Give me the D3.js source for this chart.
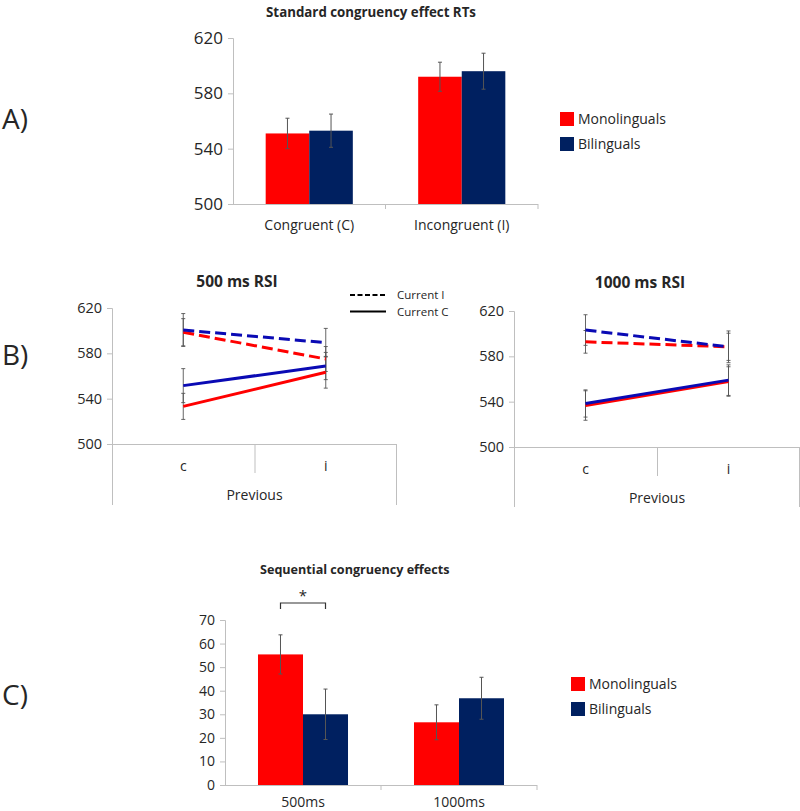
<!DOCTYPE html>
<html><head><meta charset="utf-8">
<script src="https://cdn.jsdelivr.net/npm/d3@7"></script>
<style>
body{margin:0;background:#fff;}
text{font-family:"Open Sans",sans-serif;fill:#262626;}
</style></head><body>
<script>
// ---------- DATA ----------
const groups = ["Monolinguals", "Bilinguals"];
// Panel A
const catsA = ["Congruent (C)", "Incongruent (I)"];
const monoA = [551, 592];
const biA = [553, 596];
const monoAErr = [11, 10.5];
const biAErr = [12, 13];
const ticksA = [500, 540, 580, 620];
// Panel B
const previous = ["c", "i"];
const ticksB = [500, 540, 580, 620];
const r500MonoI = [598.6, 575];
const r500BiI = [600.6, 589.4];
const r500MonoC = [533.2, 563.3];
const r500BiC = [551.5, 568.8];
const r500MonoIErr = [12, 11];
const r500BiIErr = [14.5, 12.6];
const r500MonoCErr = [11.5, 14];
const r500BiCErr = [15, 12];
const r1000MonoI = [592.8, 588.4];
const r1000BiI = [603.2, 588.4];
const r1000MonoC = [536.6, 557.8];
const r1000BiC = [538.4, 559];
const r1000MonoIErr = [10, 12];
const r1000BiIErr = [13.5, 14];
const r1000MonoCErr = [13, 13];
const r1000BiCErr = [12, 13.5];
// Panel C
const catsC = ["500ms", "1000ms"];
const monoSeq = [55.4, 26.6];
const biSeq = [30, 36.8];
const monoSeqErr = [8.3, 7.4];
const biSeqErr = [10.7, 8.9];
const ticksC = [0, 10, 20, 30, 40, 50, 60, 70];

// ---------- STYLE ----------
const RED = "#ff0000", NAVY = "#002060", LBLUE = "#0a0ab4", AX = "#bfbfbf", ERR = "#555";

const svg = d3.select("body").append("svg").attr("width", 800).attr("height", 811);

function styleAxis(g, fs) {
  g.select(".domain").attr("stroke", AX);
  g.selectAll(".tick line").attr("stroke", AX);
  g.selectAll(".tick text").style("font-size", fs + "px").attr("fill", "#262626");
}

function barPanel(opt) {
  const g = svg.append("g");
  const y = d3.scaleLinear().domain(opt.ydom).range(opt.yr);
  const x = d3.scaleBand().domain(opt.cats).range(opt.xr).paddingInner(0).paddingOuter(0);
  const sub = d3.scaleBand().domain(groups).range([0, x.bandwidth()]).paddingInner(0).paddingOuter(opt.pad);
  // y axis
  const ya = g.append("g").attr("transform", `translate(${opt.xr[0]},0)`)
    .call(d3.axisLeft(y).tickValues(opt.ticks).tickSize(5).tickPadding(5).tickFormat(d3.format("d")));
  styleAxis(ya, opt.tfs);
  // bars
  const data = [];
  opt.cats.forEach((c, i) => {
    data.push({c, gname: groups[0], v: opt.mono[i], e: opt.monoErr[i], col: RED});
    data.push({c, gname: groups[1], v: opt.bi[i], e: opt.biErr[i], col: NAVY});
  });
  g.selectAll("rect.bar").data(data).join("rect")
    .attr("x", d => x(d.c) + sub(d.gname)).attr("width", sub.bandwidth())
    .attr("y", d => y(d.v)).attr("height", d => y(opt.ydom[0]) - y(d.v))
    .attr("fill", d => d.col);
  // error bars
  const cx = d => x(d.c) + sub(d.gname) + sub.bandwidth() / 2;
  g.selectAll("line.err").data(data).join("line")
    .attr("x1", cx).attr("x2", cx).attr("y1", d => y(d.v + d.e)).attr("y2", d => y(d.v - d.e))
    .attr("stroke", ERR).attr("stroke-width", 1);
  [1, -1].forEach(s => {
    g.selectAll(null).data(data).join("line")
      .attr("x1", d => cx(d) - 2).attr("x2", d => cx(d) + 2)
      .attr("y1", d => y(d.v + s * d.e)).attr("y2", d => y(d.v + s * d.e))
      .attr("stroke", ERR).attr("stroke-width", 1);
  });
  // x axis
  const xa = g.append("g").attr("transform", `translate(0,${opt.yr[0]})`)
    .call(d3.axisBottom(x).tickSize(0).tickPadding(opt.xpad));
  styleAxis(xa, opt.xfs);
  xa.select(".domain").attr("d", `M${opt.xr[0]},0.5H${opt.xr[1]}`);
  const bounds = opt.cats.map((c) => x(c) + x.step());
  g.selectAll(null).data(bounds).join("line")
    .attr("x1", d => d).attr("x2", d => d).attr("y1", opt.yr[0]).attr("y2", opt.yr[0] + 5)
    .attr("stroke", AX);
  // legend
  const lg = g.append("g");
  groups.forEach((gn, i) => {
    lg.append("rect").attr("x", opt.lx).attr("y", opt.ly + i * 25).attr("width", 14).attr("height", 14)
      .attr("fill", i ? NAVY : RED);
    lg.append("text").attr("x", opt.lx + 18).attr("y", opt.ly + 7 + i * 25).attr("dy", "0.35em")
      .style("font-size", opt.lfs + "px").text(gn);
  });
  // title
  g.append("text").attr("x", opt.tx).attr("y", opt.ty).attr("text-anchor", opt.tanchor || "middle")
    .attr("dy", "0.35em").style("font-size", opt.titfs + "px").style("font-weight", "bold").text(opt.title);
  return {x, y, sub};
}

// Panel A
barPanel({cats: catsA, mono: monoA, bi: biA, monoErr: monoAErr, biErr: biAErr,
  ydom: [500, 620], yr: [204, 38], xr: [233, 538], pad: 0.75, ticks: ticksA,
  tfs: 17, xfs: 14, xpad: 16, lx: 560, ly: 112, lfs: 14,
  tx: 371, ty: 12, titfs: 13.3, title: "Standard congruency effect RTs"});

// Panel C
const pc = barPanel({cats: catsC, mono: monoSeq, bi: biSeq, monoErr: monoSeqErr, biErr: biSeqErr,
  ydom: [0, 70], yr: [785, 620], xr: [225, 537], pad: 0.733, ticks: ticksC,
  tfs: 14, xfs: 14, xpad: 12, lx: 571, ly: 677, lfs: 14,
  tx: 260, ty: 570, tanchor: "start", titfs: 12.6, title: "Sequential congruency effects"});
// significance bracket
{
  const x0 = pc.x(catsC[0]) + pc.sub(groups[0]) + pc.sub.bandwidth() / 2;
  const x1 = pc.x(catsC[0]) + pc.sub(groups[1]) + pc.sub.bandwidth() / 2;
  svg.append("path").attr("d", `M${x0},609V603H${x1}V609`).attr("fill", "none").attr("stroke", "#333").attr("stroke-width", 1.2);
  svg.append("text").attr("x", (x0 + x1) / 2).attr("y", 596).attr("text-anchor", "middle").attr("dy", "0.35em")
    .style("font-size", "15px").text("*");
}

// Panel B
function linePanel(opt) {
  const g = svg.append("g");
  const y = d3.scaleLinear().domain([500, 620]).range(opt.yr);
  const x = d3.scaleBand().domain(previous).range(opt.xr).paddingInner(0).paddingOuter(0);
  const cx = c => x(c) + x.bandwidth() / 2;
  const ya = g.append("g").attr("transform", `translate(${opt.xr[0]},0)`)
    .call(d3.axisLeft(y).tickValues(ticksB).tickSize(5).tickPadding(5));
  styleAxis(ya, 14.5);
  // extend y axis downward (multi-level category area)
  g.append("line").attr("x1", opt.xr[0] + 0.5).attr("x2", opt.xr[0] + 0.5).attr("y1", opt.yr[0]).attr("y2", opt.bottom).attr("stroke", AX);
  g.append("line").attr("x1", opt.xr[0]).attr("x2", opt.xr[1]).attr("y1", opt.yr[0] + 0.5).attr("y2", opt.yr[0] + 0.5).attr("stroke", AX);
  g.append("line").attr("x1", x(previous[1]) + 0.5).attr("x2", x(previous[1]) + 0.5).attr("y1", opt.yr[0]).attr("y2", opt.yr[0] + 29).attr("stroke", AX);
  g.append("line").attr("x1", opt.xr[1] - 0.5).attr("x2", opt.xr[1] - 0.5).attr("y1", opt.yr[0]).attr("y2", opt.bottom).attr("stroke", AX);
  g.selectAll("text.cat").data(previous).join("text")
    .attr("x", d => cx(d)).attr("y", opt.yr[0] + 22).attr("dy", "0.35em").attr("text-anchor", "middle")
    .style("font-size", "14px").text(d => d);
  g.append("text").attr("x", (opt.xr[0] + opt.xr[1]) / 2).attr("y", opt.yr[0] + 51).attr("dy", "0.35em")
    .attr("text-anchor", "middle").style("font-size", "14px").text("Previous");
  g.append("text").attr("x", opt.tx).attr("y", opt.ty).attr("dy", "0.35em").attr("text-anchor", "middle")
    .style("font-size", "15.5px").style("font-weight", "bold").text(opt.title);
  const series = [
    {v: opt.monoI, e: opt.monoIErr, col: RED, dash: "11,5"},
    {v: opt.monoC, e: opt.monoCErr, col: RED, dash: null},
    {v: opt.biI, e: opt.biIErr, col: LBLUE, dash: "11,5"},
    {v: opt.biC, e: opt.biCErr, col: LBLUE, dash: null}
  ];
  // error bars
  series.forEach(s => {
    previous.forEach((p, i) => {
      const xx = cx(p);
      g.append("line").attr("x1", xx).attr("x2", xx).attr("y1", y(s.v[i] + s.e[i])).attr("y2", y(s.v[i] - s.e[i]))
        .attr("stroke", ERR).attr("stroke-width", 0.9);
      [1, -1].forEach(sg => g.append("line").attr("x1", xx - 2).attr("x2", xx + 2)
        .attr("y1", y(s.v[i] + sg * s.e[i])).attr("y2", y(s.v[i] + sg * s.e[i])).attr("stroke", ERR).attr("stroke-width", 0.9));
    });
  });
  const line = d3.line().x((d, i) => cx(previous[i])).y(d => y(d));
  series.forEach(s => {
    g.append("path").attr("d", line(s.v)).attr("fill", "none").attr("stroke", s.col).attr("stroke-width", 3)
      .attr("stroke-dasharray", s.dash);
  });
}
linePanel({xr: [112, 397], yr: [444, 308], bottom: 505, tx: 237, ty: 282, title: "500 ms RSI",
  monoI: r500MonoI, biI: r500BiI, monoC: r500MonoC, biC: r500BiC,
  monoIErr: r500MonoIErr, biIErr: r500BiIErr, monoCErr: r500MonoCErr, biCErr: r500BiCErr});
linePanel({xr: [514, 800], yr: [447, 311], bottom: 507, tx: 640, ty: 283, title: "1000 ms RSI",
  monoI: r1000MonoI, biI: r1000BiI, monoC: r1000MonoC, biC: r1000BiC,
  monoIErr: r1000MonoIErr, biIErr: r1000BiIErr, monoCErr: r1000MonoCErr, biCErr: r1000BiCErr});

// line legend
const lgB = svg.append("g");
[["Current I", "5,2.5"], ["Current C", null]].forEach((d, i) => {
  lgB.append("line").attr("x1", 350).attr("x2", 386).attr("y1", 295 + i * 16.5).attr("y2", 295 + i * 16.5)
    .attr("stroke", "#000").attr("stroke-width", 2).attr("stroke-dasharray", d[1]);
  lgB.append("text").attr("x", 397).attr("y", 295 + i * 16.5).attr("dy", "0.35em").style("font-size", "11.5px").text(d[0]);
});

// panel labels
[["A)", 119], ["B)", 355], ["C)", 695]].forEach(d => {
  svg.append("text").attr("x", 2).attr("y", d[1]).attr("dy", "0.35em").style("font-size", "28px").text(d[0]);
});
</script>
</body></html>
